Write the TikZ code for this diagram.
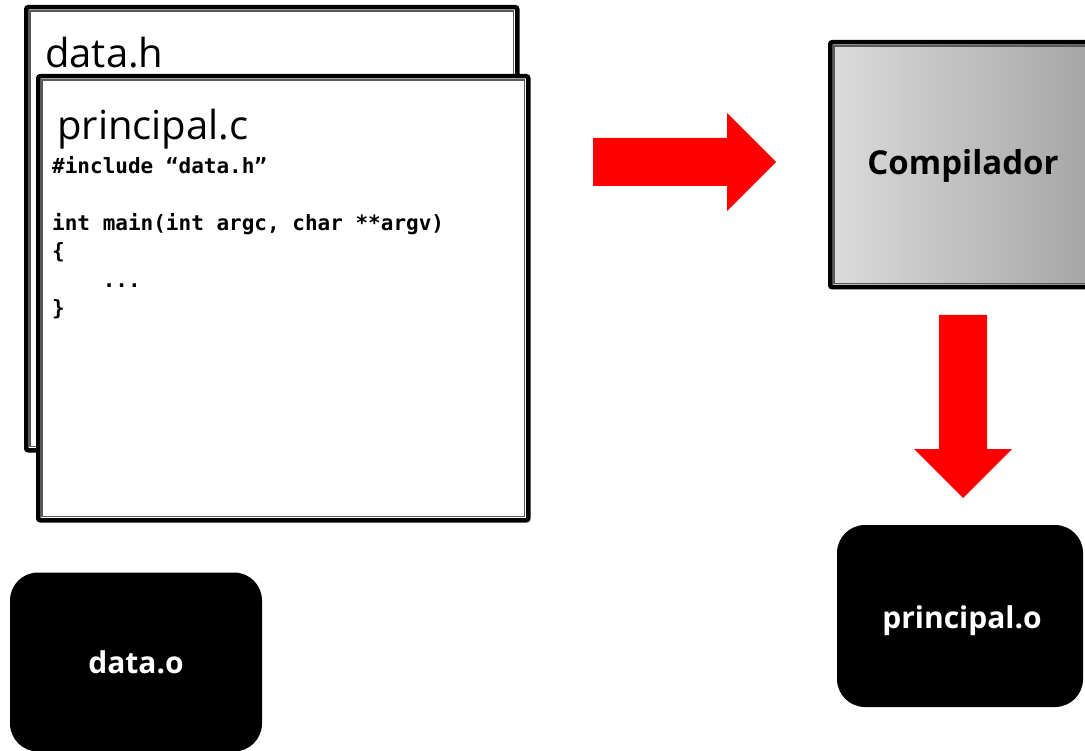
\documentclass[tikz,border=0pt]{standalone}
\usepackage{fontspec}
\setmainfont{Open Sans}
\newfontfamily\codefont{DejaVu Sans Mono}
\usetikzlibrary{calc,positioning}
\tikzset{
  filebox/.style={draw=black, line width=4.5pt, fill=white, rounded corners=2pt, inner sep=0pt, anchor=north west},
  innerline/.style={draw=black!65, line width=1.5pt},
  compbox/.style={draw=black, line width=4.5pt, left color=black!14, right color=black!36, rounded corners=2pt, inner sep=0pt, anchor=north west},
  objbox/.style={fill=black, rounded corners=28pt, text=white, font=\bfseries\fontsize{30}{36}\selectfont, inner sep=0pt},
  filetitle/.style={font=\fontsize{40}{48}\selectfont, inner sep=0pt, anchor=base west},
  codetext/.style={font=\codefont\bfseries\fontsize{21}{28.5}\selectfont, align=left, inner sep=0pt, anchor=north west},
  redarrow/.pic={\fill[red] (0,-24) -- (134,-24) -- (134,-49) -- (183,0) -- (134,49) -- (134,24) -- (0,24) -- cycle;}
}
\begin{document}
\begin{tikzpicture}[x=1pt,y=-1pt]
  \useasboundingbox (0,0) rectangle (1085,751);
  \clip (0,0) rectangle (1085,751);
  \node[filebox, minimum width=491pt, minimum height=443pt] (dataH) at (24,5) {};
  \draw[innerline] ([shift={(6,6)}]dataH.north west) rectangle ([shift={(-6,-6)}]dataH.south east);
  \node[filetitle] (dataHname) at (45,68) {data.h};
  \node[filebox, minimum width=490pt, minimum height=444pt] (princC) at (36,74) {};
  \draw[innerline] ([shift={(6,6)}]princC.north west) rectangle ([shift={(-6,-6)}]princC.south east);
  \node[filetitle] (princCname) at (57,140) {principal.c};
  \node[codetext] (code) at (52,156) {\#include “data.h”\\ \strut\\ int main(int argc, char **argv)\\ \{\\ \phantom{0000}...\\ \}};
  \node[compbox, minimum width=272pt, minimum height=245pt] (comp) at (828,40) {};
  \draw[innerline] ([shift={(6,6)}]comp.north west) rectangle ([shift={(-6,-6)}]comp.south east);
  \node[font=\bfseries\fontsize{33}{39}\selectfont, anchor=base] (compname) at (963,175) {Compilador};
  \node[objbox, minimum width=246pt, minimum height=182pt] (princO) at (960,616) {};
  \node[text=white, font=\bfseries\fontsize{30}{36}\selectfont, anchor=base] (princOname) at (962,628) {principal.o};
  \node[objbox, minimum width=252pt, minimum height=179pt] (dataO) at (136,662) {data.o};
  \pic at (593,162) {redarrow};
  \pic[rotate=-90] at (963,315) {redarrow};
\end{tikzpicture}
\end{document}
